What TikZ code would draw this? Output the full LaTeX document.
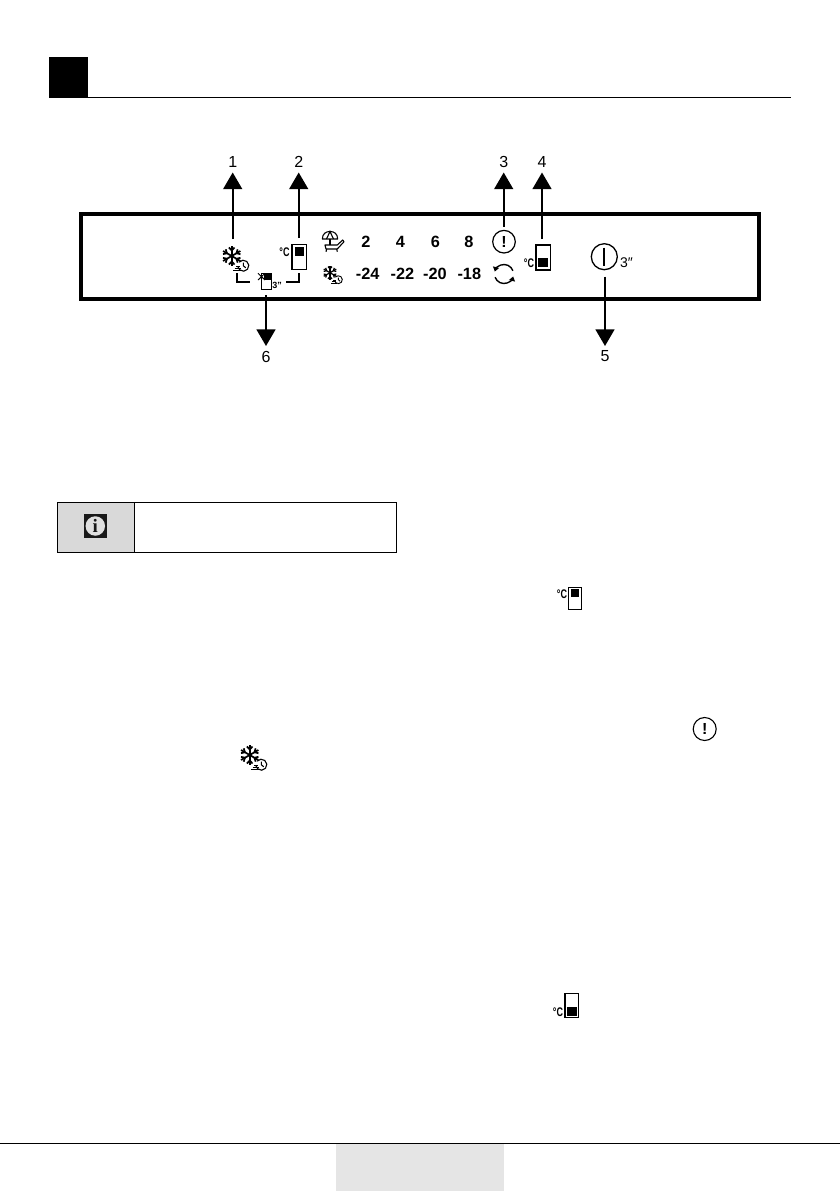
\documentclass[tikz,border=0pt]{standalone}
\usepackage{fontspec}
\setmainfont{Liberation Sans}
\newfontfamily\serifi{Liberation Serif}
\usetikzlibrary{arrows.meta}
\newcommand{\fs}[1]{\fontsize{#1}{#1}\selectfont}
\tikzset{
  x=1pt,y=-1pt,
  every node/.style={inner sep=0pt,outer sep=0pt},
  callout/.style={line width=1.7pt,-{Triangle[width=19pt,length=16.7pt]}},
  numlabel/.style={font=\fs{16},minimum height=21pt,minimum width=12pt,anchor=center},
  reading/.style={font=\fs{16.3}\bfseries},
  degree/.style={font=\fs{12.5}\bfseries,xscale=.72},
  bracketline/.style={line width=1.7pt},
  iconline/.style={line width=1.7pt,black},
  thinicon/.style={line width=1.1pt,black},
  pics/flake/.style={code={
    \foreach \a in {30,90,150,210,270,330}{
      \begin{scope}[rotate=\a]
        \draw[iconline] (0,0)--(10,0);
        \draw[iconline] (5.5,0)--(8.5,2.8) (5.5,0)--(8.5,-2.8);
      \end{scope}
    }
    \draw[thinicon] ([shift={(140:5.5pt)}]11.6,9.7) arc[start angle=140,end angle=-170,radius=5.5pt];
    \draw[thinicon] (11.6,6.7)--(11.6,9.7)--(14,11.8);
    \draw[thinicon] (4.5,10.9)--(8,10.9) (3,12.8)--(9,12.8) (1.6,14.7)--(9.5,14.7);
  }}
}
\begin{document}
\begin{tikzpicture}
\useasboundingbox (0,0) rectangle (840,1191);
% header
\fill[black] (49,57) rectangle (88,97);
\draw[line width=.9pt] (49,97) -- (791,97);
% panel
\draw[line width=3.9pt] (81,214) rectangle (759,299);
% labels
\node[numlabel] (l1) at (232.7,162) {1};
\node[numlabel] (l2) at (298.7,162) {2};
\node[numlabel] (l3) at (503.7,162) {3};
\node[numlabel] (l4) at (542,162) {4};
\node[numlabel] (l5) at (605,356.5) {5};
\node[numlabel] (l6) at (266,356.5) {6};
% icon 1
\pic at (231.7,256) {flake};
\coordinate (s1) at (232.7,239);
\coordinate (b1) at (236.7,273.3);
% icon 2
\draw[line width=1.4pt] (292,244.3) rectangle (306.7,269.3);
\fill[black] (295,247.3) rectangle (304.3,256);
\node[degree] (c2) at (284.5,251.7) {°C};
\coordinate (s2) at (298.7,238);
\coordinate (b2) at (298.7,273.3);
% mini icon between the brackets
\draw[line width=1pt] (261.7,273.3) rectangle (271.7,289.3);
\fill[black] (264,273.3) rectangle (271.7,280);
\draw[line width=1pt] (258,273.3) -- (265,280) (258,280) -- (265,273.3);
\node[font=\fs{9}\bfseries] (m3) at (277,285.3) {3"};
\coordinate (m1) at (250,282.3);
\coordinate (m2) at (285.7,282.3);
\coordinate (s6) at (266,295);
\draw[bracketline] (b1) |- (m1);
\draw[bracketline] (b2) |- (m2);
% umbrella
\draw[thinicon,line join=round] (322.3,239) .. controls (322.5,233.5) and (326,231.5) .. (330,231.5)
   .. controls (334,231.5) and (337.5,233.5) .. (337.7,239) -- cycle;
\draw[thinicon] (326.5,239) -- (330,231.5) -- (333.5,239);
\draw[thinicon] (330,239) -- (330,245);
\draw[thinicon,line join=round] (325,245) -- (337.3,245) -- (342.7,240) -- (344,241.7) -- (337.3,249) -- (326,249) -- cycle;
\draw[thinicon] (326.7,249) -- (326,251.7) (336.7,249) -- (337.3,251.7);
% small flake
\pic[scale=.72,iconline/.style={line width=1.25pt,black},thinicon/.style={line width=.9pt,black}] at (330,272.7) {flake};
% readings
\node[reading] (r2) at (366,241.7) {2};
\node[reading] (r4) at (400.5,241.7) {4};
\node[reading] (r6) at (435.3,241.7) {6};
\node[reading] (r8) at (469,241.7) {8};
\node[reading] (r24) at (367.7,274.3) {-24};
\node[reading] (r22) at (402.5,274.3) {-22};
\node[reading] (r20) at (435,274.3) {-20};
\node[reading] (r18) at (469.3,274.3) {-18};
% warning
\node[draw,circle,line width=1.2pt,minimum size=22.6pt,font=\fs{16}\bfseries] (w) at (504,241.7) {!};
\coordinate (s3) at (503.7,226.7);
% cycle icon
\coordinate (cyc) at (504,274);
\draw[line width=1.4pt,-{Triangle[width=6pt,length=4.5pt]}] ([shift={(20:9.5pt)}]cyc) arc[start angle=20,end angle=165,radius=9.5pt];
\draw[line width=1.4pt,-{Triangle[width=6pt,length=4.5pt]}] ([shift={(200:9.5pt)}]cyc) arc[start angle=200,end angle=345,radius=9.5pt];
% icon 4
\draw[line width=1.4pt] (536,245) rectangle (550.7,270);
\fill[black] (538.3,258.3) rectangle (548.3,267.3);
\node[degree] (c4) at (529,263.3) {°C};
\coordinate (s4) at (542,239);
% power
\node[draw,circle,line width=1.3pt,minimum size=26pt] (p) at (604.3,256.7) {};
\draw[line width=1.7pt] (p.north) ++(0,4) -- ++(0,18);
\node[font=\fs{14}] (p3) at (626.5,262.5) {3″};
\coordinate (s5) at (605,276.7);
% callouts
\draw[callout] (s1) -- (l1.south);
\draw[callout] (s2) -- (l2.south);
\draw[callout] (s3) -- (l3.south);
\draw[callout] (s4) -- (l4.south);
\draw[callout] (s5) -- (l5.north);
\draw[callout] (s6) -- (l6.north);
% info box
\fill[black!15] (57.3,502.3) rectangle (134.3,552.3);
\draw[line width=1.1pt] (57.3,502.3) rectangle (396.7,552.3);
\draw[line width=1.1pt] (134.3,502.3) -- (134.3,552.3);
\fill[black!90] (84,514.3) rectangle (106.7,537.7);
\node[circle,fill=black!12,minimum size=19.5pt,font=\serifi\fs{19}\bfseries,text=black!90] (i) at (95.3,526) {i};
% inline icons
\draw[line width=1.1pt] (568.5,587.3) rectangle (581.3,609.3);
\fill[black] (571,589.3) rectangle (579,597.3);
\node[degree] (c5) at (562,594) {°C};
\node[draw,circle,line width=1.1pt,minimum size=23pt,font=\fs{16}\bfseries] (w2) at (704.7,729) {!};
\pic[scale=1] at (249.7,755) {flake};
\draw[line width=1.1pt] (565,993.3) rectangle (578.3,1017.3);
\fill[black] (566.7,1006.7) rectangle (576.7,1016);
\node[degree] (c6) at (558,1011.7) {°C};
% footer
\fill[black!10] (336,1144) rectangle (504,1191);
\draw[line width=1.2pt] (0,1143.5) -- (840,1143.5);
\end{tikzpicture}
\end{document}
